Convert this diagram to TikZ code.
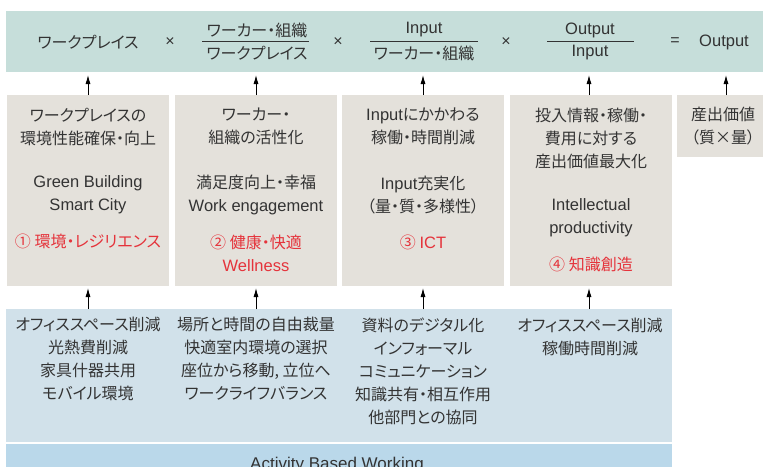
\documentclass[tikz,border=0pt]{standalone}
\usepackage{fontspec}
\setmainfont{Noto Sans CJK JP}[RawFeature=+palt]
\newfontfamily\lat{Liberation Sans}
\usetikzlibrary{arrows.meta}
\definecolor{bandc}{HTML}{C6DEDA}
\definecolor{greyc}{HTML}{E4E1DB}
\definecolor{bluec}{HTML}{D1E1EA}
\definecolor{abwc}{HTML}{BAD8EA}
\definecolor{txtc}{HTML}{333333}
\definecolor{redc}{HTML}{E5333B}
\newcommand\La[1]{{\lat\fontsize{16.5}{23}\selectfont #1}}
\begin{document}
\begin{tikzpicture}[x=1pt,y=-1pt,
  every node/.style={inner sep=0pt, outer sep=0pt, text=txtc},
  panel/.style={draw=none, anchor=north west},
  jp/.style={font=\fontsize{16}{23}\selectfont, align=center},
  rd/.style={jp, text=redc},
  op/.style={font=\lat\fontsize{16}{23}\selectfont},
  fracline/.style={line width=1.1pt, draw=txtc},
  arr/.style={-{Latex[length=9pt,width=5pt]}, line width=0.8pt, draw=black}]
\useasboundingbox (0,0) rectangle (763,466);
\clip (0,0) rectangle (763,466);
% backgrounds
\node[panel, fill=bandc, minimum width=760, minimum height=61] (band) at (6,11) {};
\node[panel, fill=greyc, minimum width=162, minimum height=191] (b1) at (7,95) {};
\node[panel, fill=greyc, minimum width=162, minimum height=191] (b2) at (175,95) {};
\node[panel, fill=greyc, minimum width=162, minimum height=191] (b3) at (342,95) {};
\node[panel, fill=greyc, minimum width=162, minimum height=191] (b4) at (510,95) {};
\node[panel, fill=greyc, minimum width=92, minimum height=62] (b5) at (677,95) {};
\node[panel, fill=bluec, minimum width=666, minimum height=133] (blue) at (6,309) {};
\node[panel, fill=abwc, minimum width=666, minimum height=30] (abw) at (6,444) {};
% top equation
\node[jp] (w1) at (88,42) {ワークプレイス};
\node[op] (x1) at (170,42) {×};
\node[jp] (n1) at (257,30) {ワーカー・組織};
\node[jp] (d1) at (257,53) {ワークプレイス};
\draw[fracline] (202,41.7) -- (309,41.7);
\node[op] (x2) at (338,42) {×};
\node[jp] (n2) at (424,30) {\La{Input}};
\node[jp] (d2) at (424,53) {ワーカー・組織};
\draw[fracline] (370,41.7) -- (478,41.7);
\node[op] (x3) at (506,42) {×};
\node[jp] (n3) at (590,30) {\La{Output}};
\node[jp] (d3) at (590,53) {\La{Input}};
\draw[fracline] (547,41.7) -- (634,41.7);
\node[op] (eq) at (675,42) {=};
\node[jp] (out) at (724,42) {\La{Output}};
% grey box texts
\node[jp] (t1a) at (88,126.5) {ワークプレイスの\\環境性能確保・向上};
\node[jp] (t1b) at (88,195) {\La{Green Building}\\\La{Smart City}};
\node[rd] (t1c) at (88,241) {① 環境・レジリエンス};
\node[jp] (t2a) at (256,126.5) {ワーカー・\\組織の活性化};
\node[jp] (t2b) at (256,195) {満足度向上・幸福\\\La{Work engagement}};
\node[rd] (t2c) at (256,253) {② 健康・快適\\\La{Wellness}};
\node[jp] (t3a) at (423,126.5) {\La{Input}にかかわる\\稼働・時間削減};
\node[jp] (t3b) at (423,195) {\La{Input}充実化\\（量・質・多様性）};
\node[rd] (t3c) at (423,242) {③ \La{ICT}};
\node[jp] (t4a) at (591,138.5) {投入情報・稼働・\\費用に対する\\産出価値最大化};
\node[jp] (t4b) at (591,218) {\La{Intellectual}\\\La{productivity}};
\node[rd] (t4c) at (591,264) {④ 知識創造};
\node[jp] (t5a) at (723,126.5) {産出価値\\（質×量）};
% blue area texts
\node[jp] (u1) at (88,359) {オフィススペース削減\\光熱費削減\\家具什器共用\\モバイル環境};
\node[jp] (u2) at (256,359) {場所と時間の自由裁量\\快適室内環境の選択\\座位から移動, 立位へ\\ワークライフバランス};
\node[jp] (u3) at (423,371) {資料のデジタル化\\インフォーマル\\コミュニケーション\\知識共有・相互作用\\他部門との協同};
\node[jp] (u4) at (590,336.5) {オフィススペース削減\\稼働時間削減};
\node[anchor=base] (abwt) at (337,469) {\La{\fontsize{17}{23}\selectfont Activity Based Working}};
% arrows up to the equation
\draw[arr] (b1.north) -- ([yshift=-3pt]b1.north |- band.south);
\draw[arr] (b2.north) -- ([yshift=-3pt]b2.north |- band.south);
\draw[arr] (b3.north) -- ([yshift=-3pt]b3.north |- band.south);
\draw[arr] ([xshift=-2pt]b4.north) -- ([xshift=-2pt,yshift=-3pt]b4.north |- band.south);
\draw[arr] ([xshift=3pt]b5.north) -- ([xshift=3pt,yshift=-3pt]b5.north |- band.south);
% arrows from ABW area
\draw[arr] (b1.south |- blue.north) -- ([yshift=-2pt]b1.south);
\draw[arr] (b2.south |- blue.north) -- ([yshift=-2pt]b2.south);
\draw[arr] (b3.south |- blue.north) -- ([yshift=-2pt]b3.south);
\draw[arr] ([xshift=-2pt]b4.south |- blue.north) -- ([xshift=-2pt,yshift=-2pt]b4.south);
\end{tikzpicture}
\end{document}
